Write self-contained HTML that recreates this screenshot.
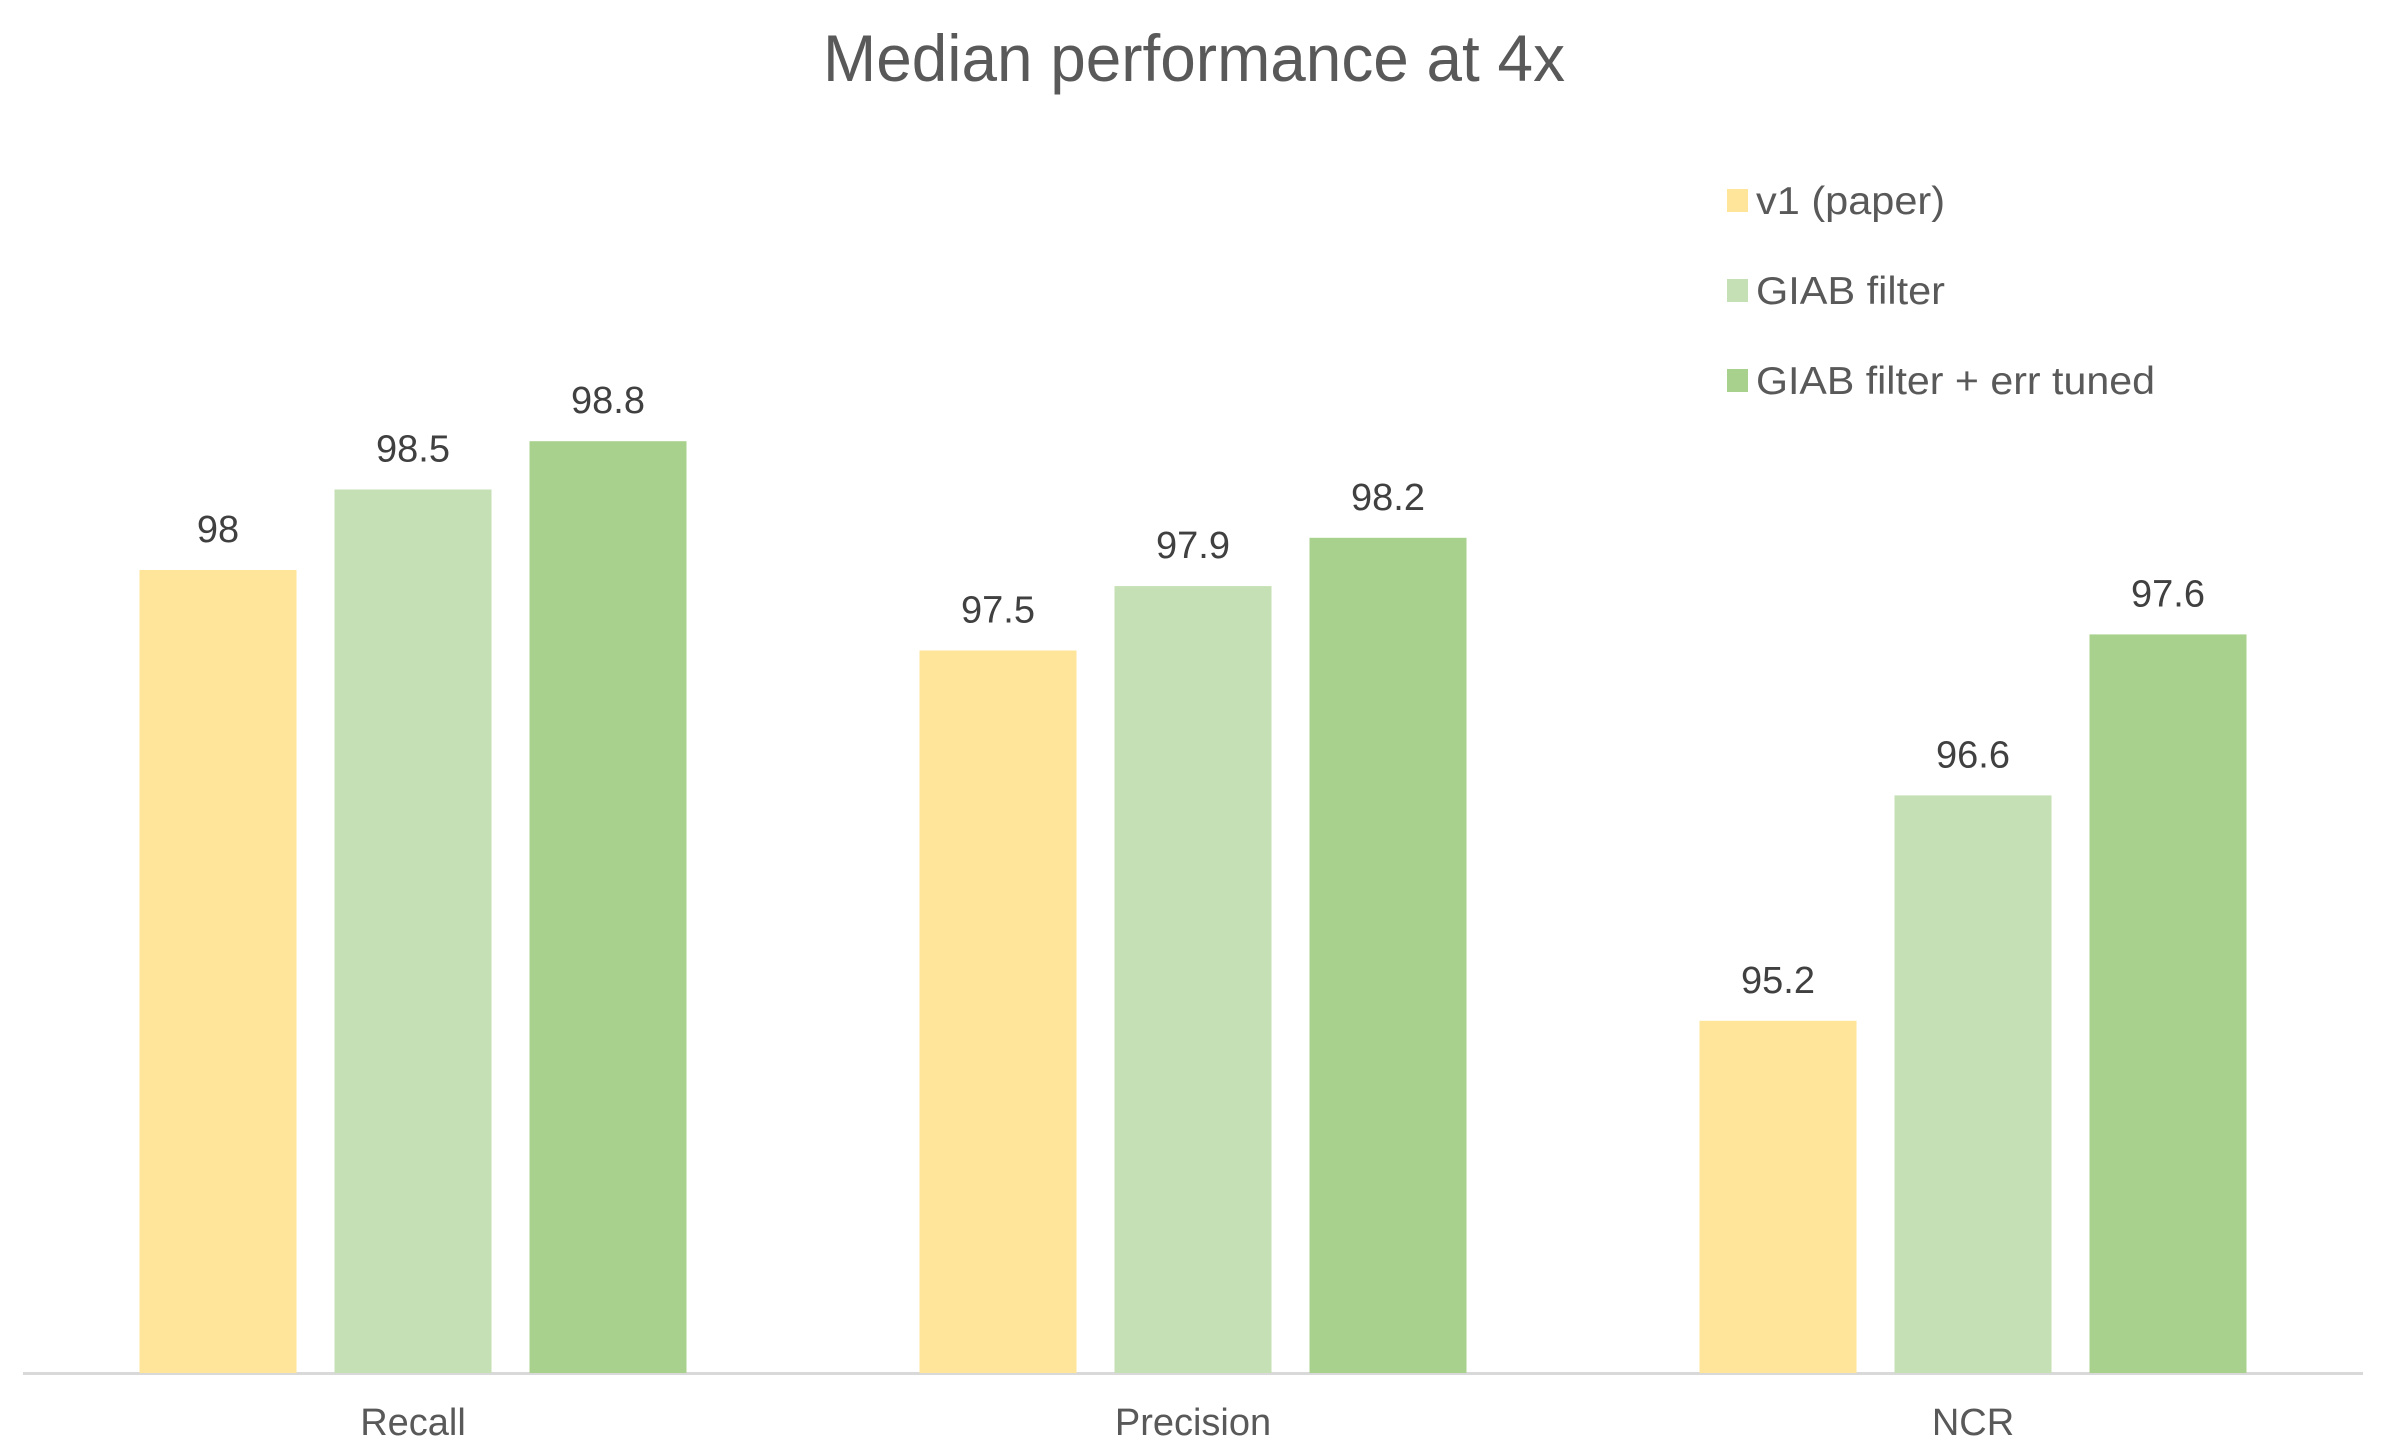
<!DOCTYPE html>
<html><head><meta charset="utf-8"><style>
html,body{margin:0;padding:0;background:#fff;}
svg{display:block;font-family:"Liberation Sans",Arial,sans-serif;}
</style></head><body>
<svg id="chart" width="2386" height="1455" viewBox="0 0 2386 1455">
<text x="1194" y="81" text-anchor="middle" font-size="66" fill="#595959" textLength="742" lengthAdjust="spacingAndGlyphs">Median performance at 4x</text>
<line x1="23" y1="1373.5" x2="2363" y2="1373.5" stroke="#d9d9d9" stroke-width="3"/>
<g id="bars"></g>
<g id="legend"></g>
</svg>
<script>
const categories = ["Recall", "Precision", "NCR"];
const seriesNames = ["v1 (paper)", "GIAB filter", "GIAB filter + err tuned"];
const v1Values = [98, 97.5, 95.2];
const giabValues = [98.5, 97.9, 96.6];
const tunedValues = [98.8, 98.2, 97.6];
const colors = ["#fee599", "#c5e0b4", "#a9d18e"];
const legendWidths = [189, 189, 399];
const series = [v1Values, giabValues, tunedValues];
const NS = "http://www.w3.org/2000/svg";
const yMin = 93, yMax = 100, yBase = 1373, yTop = 246;
function yScale(v){ return yBase - (v - yMin) / (yMax - yMin) * (yBase - yTop); }
const groupStart = 23, groupW = 780, barW = 157, barStep = 195;
function groupCenter(i){ return groupStart + groupW * (i + 0.5); }
const bars = document.getElementById("bars");
categories.forEach((c, i) => {
  const gc = groupCenter(i);
  series.forEach((vals, s) => {
    const x = gc + (s - 1) * barStep - barW / 2;
    const y = yScale(vals[i]);
    const r = document.createElementNS(NS, "rect");
    r.setAttribute("x", x); r.setAttribute("y", y + 2);
    r.setAttribute("width", barW); r.setAttribute("height", yBase - y - 2);
    r.setAttribute("fill", colors[s]);
    
    
    bars.appendChild(r);
    const t = document.createElementNS(NS, "text");
    t.setAttribute("x", x + barW / 2); t.setAttribute("y", y - 26);
    t.setAttribute("text-anchor", "middle"); t.setAttribute("font-size", "38");
    t.setAttribute("fill", "#404040");
    t.textContent = String(vals[i]);
    
    
    bars.appendChild(t);
  });
  const lbl = document.createElementNS(NS, "text");
  lbl.setAttribute("x", gc); lbl.setAttribute("y", 1435);
  lbl.setAttribute("text-anchor", "middle"); lbl.setAttribute("font-size", "38");
  lbl.setAttribute("fill", "#595959");
  lbl.textContent = c;
  
  
  bars.appendChild(lbl);
});
const legend = document.getElementById("legend");
seriesNames.forEach((n, s) => {
  const cy = 200 + s * 90;
  const g = document.createElementNS(NS, "g");
  
  
  const r = document.createElementNS(NS, "rect");
  r.setAttribute("x", 1727); r.setAttribute("y", cy - 11);
  r.setAttribute("width", 21); r.setAttribute("height", 23);
  r.setAttribute("fill", colors[s]);
  
  
  g.appendChild(r);
  const t = document.createElementNS(NS, "text");
  t.setAttribute("x", 1756); t.setAttribute("y", cy + 14);
  t.setAttribute("font-size", "39"); t.setAttribute("fill", "#595959");
  t.setAttribute("textLength", legendWidths[s]);
  t.setAttribute("lengthAdjust", "spacingAndGlyphs");
  t.textContent = n;
  
  
  g.appendChild(t);
  legend.appendChild(g);
});
</script>
</body></html>
